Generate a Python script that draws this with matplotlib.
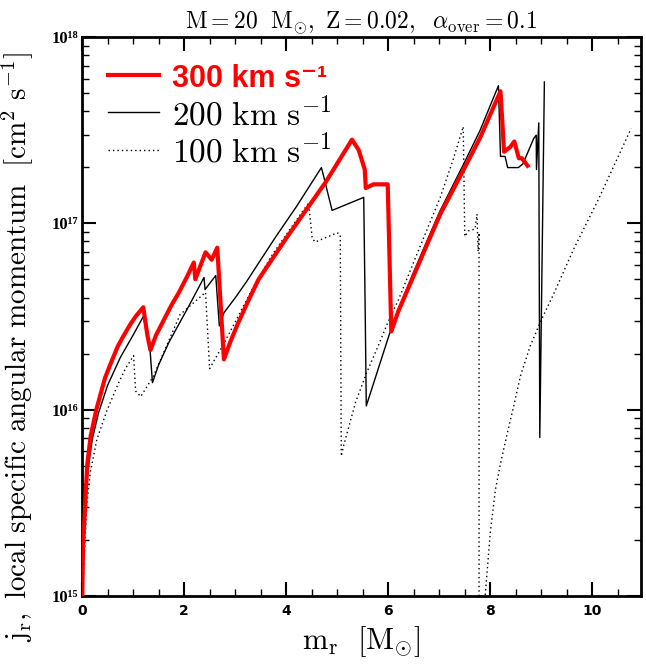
import numpy as np
import matplotlib
matplotlib.use('Agg')
import matplotlib.pyplot as plt
from matplotlib.ticker import MultipleLocator, LogLocator, FuncFormatter

plt.rcParams['mathtext.fontset'] = 'cm'
plt.rcParams['font.family'] = ['DejaVu Sans']

# m_r [Msun] and log10 j_r [cm^2 s^-1]
m_300 = [0.005, 0.02, 0.06, 0.10, 0.17, 0.28, 0.35, 0.45, 0.55, 0.70, 0.80, 0.95, 1.05, 1.20,
         1.28, 1.34, 1.45, 1.60, 1.75, 1.90, 2.05, 2.19, 2.22, 2.42, 2.54, 2.65, 2.78,
         2.90, 3.05, 3.25, 3.46, 4.00, 4.77, 5.29, 5.42, 5.54, 5.56, 5.71, 5.99, 6.06,
         6.20, 6.50, 6.75, 7.02, 7.48, 7.80, 8.20, 8.27, 8.39, 8.47, 8.52, 8.56, 8.62, 8.73]
logj_300 = [15.0, 15.27, 15.48, 15.70, 15.86, 16.00, 16.07, 16.17, 16.24, 16.34, 16.39, 16.46, 16.50, 16.55,
            16.40, 16.32, 16.40, 16.48, 16.56, 16.63, 16.71, 16.79, 16.70, 16.845, 16.805, 16.87, 16.27,
            16.36, 16.46, 16.58, 16.70, 16.92, 17.22, 17.45, 17.395, 17.29, 17.19, 17.21, 17.21, 16.42,
            16.53, 16.72, 16.88, 17.05, 17.29, 17.46, 17.71, 17.385, 17.41, 17.44, 17.39, 17.35, 17.35, 17.31]

m_200 = [0.01, 0.03, 0.07, 0.12, 0.20, 0.32, 0.50, 0.75, 1.00, 1.20, 1.33, 1.38,
         1.50, 1.70, 1.90, 2.10, 2.39, 2.41, 2.62, 2.69, 2.78, 3.00, 3.23, 3.49, 3.80,
         4.20, 4.69, 4.77, 4.80, 4.90, 5.52, 5.55, 5.57, 6.04, 6.20, 6.50, 6.75, 7.02,
         7.48, 7.80, 8.16, 8.20, 8.29, 8.34, 8.55, 8.64, 8.85, 8.90, 8.905, 8.95, 8.97, 9.06]
logj_200 = [15.0, 15.30, 15.50, 15.68, 15.84, 15.98, 16.13, 16.28, 16.40, 16.50, 16.33, 16.145,
            16.24, 16.36, 16.46, 16.56, 16.71, 16.645, 16.72, 16.45, 16.52, 16.60, 16.69, 16.80, 16.93,
            17.09, 17.30, 17.216, 17.18, 17.07, 17.14, 16.50, 16.02, 16.42, 16.54, 16.74, 16.90, 17.07,
            17.32, 17.50, 17.74, 17.36, 17.36, 17.30, 17.30, 17.32, 17.456, 17.474, 17.29, 17.54, 15.85, 17.76]

m_100 = [0.01, 0.04, 0.06, 0.09, 0.16, 0.29, 0.48, 0.71, 0.85, 1.01, 1.05, 1.15,
         1.40, 1.92, 2.42, 2.50, 2.56, 2.75, 3.00, 3.33, 3.70, 4.00, 4.44, 4.51, 4.57, 5.00,
         5.06, 5.08, 5.13, 5.25, 5.36, 5.58, 5.80, 5.98, 6.20, 6.60, 7.02, 7.28, 7.47, 7.50,
         7.57, 7.70, 7.74, 7.76, 7.78, 7.78, 7.86, 7.90, 8.00, 8.10, 8.20, 8.33,
         8.46, 8.59, 8.78, 8.98, 9.24, 9.63, 10.12, 10.76]
logj_100 = [15.0, 15.20, 15.30, 15.48, 15.66, 15.84, 15.99, 16.14, 16.22, 16.29, 16.10, 16.07,
            16.18, 16.51, 16.63, 16.22, 16.25, 16.34, 16.47, 16.645, 16.82, 16.94, 17.11, 16.92, 16.90, 16.95,
            16.94, 15.75, 15.81, 15.93, 16.04, 16.20, 16.34, 16.46, 16.59, 16.86, 17.14, 17.35, 17.52, 16.93,
            16.96, 16.97, 17.05, 16.85, 16.95, 14.5, 14.5, 15.0, 15.34, 15.57, 15.71, 15.87,
            16.02, 16.18, 16.34, 16.47, 16.62, 16.86, 17.13, 17.51]

labels = ['300 km s⁻¹', r'$\mathrm{200\ km\ s^{-1}}$', r'$\mathrm{100\ km\ s^{-1}}$']


def sup(n):
    table = str.maketrans('0123456789-', '⁰¹²³⁴⁵⁶⁷⁸⁹⁻')
    return str(n).translate(table)


def main():
    fig = plt.figure(figsize=(6.46, 6.65), dpi=100)
    ax = fig.add_axes([0.127, 0.104, 0.865, 0.840])

    ax.plot(m_300, 10**np.array(logj_300), color='red', lw=3.0, label=labels[0], zorder=3)
    ax.plot(m_200, 10**np.array(logj_200), color='black', lw=1.0, label=labels[1], zorder=2)
    ax.plot(m_100, 10**np.array(logj_100), color='black', lw=1.0, ls=(0, (1, 2.2)),
            label=labels[2], zorder=1)

    ax.set_yscale('log')
    ax.set_xlim(0, 10.95)
    ax.set_ylim(1e15, 1e18)

    ax.xaxis.set_major_locator(MultipleLocator(2))
    ax.xaxis.set_minor_locator(MultipleLocator(0.5))
    ax.yaxis.set_major_locator(LogLocator(base=10))
    ax.yaxis.set_minor_locator(LogLocator(base=10, subs=np.arange(2, 10)))
    ax.yaxis.set_major_formatter(FuncFormatter(lambda v, p: '10' + sup(int(round(np.log10(v))))))
    ax.yaxis.set_minor_formatter(FuncFormatter(lambda v, p: ''))

    ax.tick_params(which='both', direction='in', top=True, right=True)
    ax.tick_params(which='major', length=10, width=1.5, pad=6)
    ax.tick_params(which='minor', length=5, width=1.0)
    ax.tick_params(axis='x', labelsize=10)
    ax.tick_params(axis='y', labelsize=12, pad=3)
    for t in ax.get_xticklabels():
        t.set_fontweight('bold')
    for t in ax.get_yticklabels():
        t.set_fontfamily(['Liberation Serif', 'DejaVu Serif'])
        t.set_fontweight('bold')
    for s in ax.spines.values():
        s.set_linewidth(2)

    ax.set_title(r'$\mathrm{M{=}20\ \ M_{\odot},\ Z{=}0.02,\ \ \alpha_{over}{=}0.1}$',
                 fontsize=17, pad=6)
    ax.set_xlabel(r'$\mathrm{m_r\ \ [M_{\odot}]}$', fontsize=22, labelpad=4)
    ax.set_ylabel(r'$\mathrm{j_r,\ local\ specific\ angular\ momentum\ \ [cm^2\ s^{-1}]}$',
                  fontsize=21)
    ax.yaxis.set_label_coords(-0.083, 0.445)

    leg = ax.legend(loc='upper left', bbox_to_anchor=(0.0465, 0.953), frameon=False,
                    borderpad=0, borderaxespad=0, handlelength=1.53, handletextpad=0.39,
                    labelspacing=0.07, fontsize=24)
    txt = leg.get_texts()
    txt[0].set_color('red')
    txt[0].set_fontweight('bold')
    txt[0].set_fontfamily(['Liberation Sans', 'DejaVu Sans'])
    txt[0].set_fontsize(22)

    fig.savefig('out.png', dpi=100)


if __name__ == "__main__":
    main()
